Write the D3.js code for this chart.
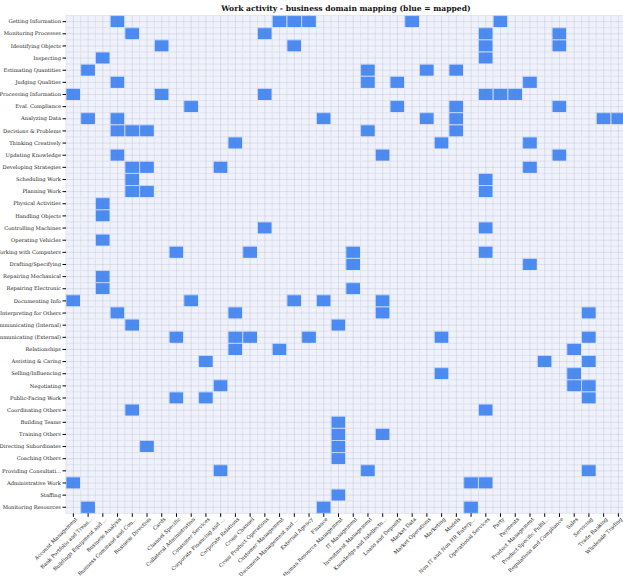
<!DOCTYPE html>
<html>
<head>
<meta charset="utf-8">
<script src="https://cdn.jsdelivr.net/npm/d3@7/dist/d3.min.js"></script>
<style>
body { margin: 0; background: #fff; }
text { font-family: "DejaVu Serif", serif; }
</style>
</head>
<body>
<script>
var activities = ["Getting Information", "Monitoring Processes", "Identifying Objects", "Inspecting",
  "Estimating Quantities", "Judging Qualities", "Processing Information", "Eval. Compliance",
  "Analyzing Data", "Decisions & Problems", "Thinking Creatively", "Updating Knowledge",
  "Developing Strategies", "Scheduling Work", "Planning Work", "Physical Activities",
  "Handling Objects", "Controlling Machines", "Operating Vehicles", "Working with Computers",
  "Drafting/Specifying", "Repairing Mechanical", "Repairing Electronic", "Documenting Info",
  "Interpreting for Others", "Communicating (Internal)", "Communicating (External)", "Relationships",
  "Assisting & Caring", "Selling/Influencing", "Negotiating", "Public-Facing Work",
  "Coordinating Others", "Building Teams", "Training Others", "Directing Subordinates",
  "Coaching Others", "Providing Consultati...", "Administrative Work", "Staffing",
  "Monitoring Resources"];

var domains = ["Account Management", "Bank Portfolio and Treas...", "Buildings Equipment and ...",
  "Business Analysis", "Business Command and Con...", "Business Direction", "Cards",
  "Channel Specific", "Collateral Administration", "Consumer Services", "Corporate Financing and ...",
  "Corporate Relations", "Cross Channel", "Cross Product Operations", "Customer Management",
  "Document Management and ...", "External Agency", "Finance", "Human Resource Management",
  "IT Management", "Investment Management", "Knowledge and Intellectu...", "Loans and Deposits",
  "Market Data", "Market Operations", "Marketing", "Models", "Non IT and Non HR Enterp...",
  "Operational Services", "Party", "Payments", "Product Management", "Product Specific Fulfil...",
  "Regulations and Compliance", "Sales", "Servicing", "Trade Banking", "Wholesale Trading"];

// domain indices mapped for each activity (same order as activities)
var mapped = [
  [3, 14, 15, 16, 23, 29],
  [4, 13, 28, 33],
  [6, 15, 28, 33],
  [2, 28],
  [1, 20, 24, 26],
  [3, 20, 22, 31],
  [0, 6, 13, 28, 29, 30],
  [8, 22, 26, 33],
  [1, 3, 17, 24, 26, 36, 37],
  [3, 4, 5, 20, 26],
  [11, 25, 31],
  [3, 21, 33],
  [4, 5, 10, 31],
  [4, 28],
  [4, 5, 28],
  [2],
  [2],
  [13, 28],
  [2],
  [7, 12, 19, 28],
  [19, 31],
  [2],
  [2, 19],
  [0, 8, 15, 17, 21],
  [3, 11, 21, 35],
  [4, 18],
  [7, 11, 12, 16, 25, 35],
  [11, 14, 34],
  [9, 32, 35],
  [25, 34],
  [10, 34, 35],
  [7, 9, 35],
  [4, 28],
  [18],
  [18, 21],
  [5, 18],
  [18],
  [10, 20, 35],
  [0, 27, 28],
  [18],
  [1, 17, 27]
];

var margin = {top: 15.6, left: 66};
var width = 38 * 14.73;
var height = 41 * 12.14;

var svg = d3.select("body").append("svg")
    .attr("width", 623)
    .attr("height", 576);

var g = svg.append("g")
    .attr("transform", "translate(" + margin.left + "," + margin.top + ")");

var x = d3.scaleBand().domain(domains).range([0, width]);
var y = d3.scaleBand().domain(activities).range([0, height]);

var cells = [];
activities.forEach(function(a, i) {
  domains.forEach(function(d, j) {
    cells.push({a: a, d: d, on: mapped[i].indexOf(j) >= 0});
  });
});

// background cells
g.selectAll(".cell")
  .data(cells)
  .enter().append("rect")
  .attr("class", "cell")
  .attr("x", function(d) { return x(d.d); })
  .attr("y", function(d) { return y(d.a); })
  .attr("width", x.bandwidth())
  .attr("height", y.bandwidth())
  .attr("fill", function(d) { return d.on ? "#4b8bf4" : "#eff2fc"; })
  .attr("stroke", function(d) { return d.on ? "#c3d2f4" : "#e3e4ec"; })
  .attr("stroke-width", 1);

// grid lines through tick positions
g.selectAll(".vline")
  .data(domains)
  .enter().append("line")
  .attr("x1", function(d) { return x(d) + x.bandwidth() / 2; })
  .attr("x2", function(d) { return x(d) + x.bandwidth() / 2; })
  .attr("y1", 0)
  .attr("y2", height)
  .attr("stroke", "rgba(120,125,150,0.22)")
  .attr("stroke-width", 0.8);

g.selectAll(".hline")
  .data(activities)
  .enter().append("line")
  .attr("y1", function(d) { return y(d) + y.bandwidth() / 2; })
  .attr("y2", function(d) { return y(d) + y.bandwidth() / 2; })
  .attr("x1", 0)
  .attr("x2", width)
  .attr("stroke", "rgba(120,125,150,0.22)")
  .attr("stroke-width", 0.8);

var yAxis = g.append("g")
  .call(d3.axisLeft(y).tickSize(3.5).tickPadding(1.5));
yAxis.select(".domain").remove();
yAxis.selectAll("text").attr("font-size", 5.2).attr("font-family", "DejaVu Serif").attr("fill", "#222");

var xAxis = g.append("g")
  .attr("transform", "translate(0," + height + ")")
  .call(d3.axisBottom(x).tickSize(3.5).tickPadding(2));
xAxis.select(".domain").remove();
xAxis.selectAll("text")
  .attr("font-size", 5.2)
  .attr("font-family", "DejaVu Serif")
  .attr("fill", "#222")
  .attr("text-anchor", "end")
  .attr("dy", "0.6em")
  .attr("transform", "translate(2,4) rotate(-45)")
  .attr("y", 0)
  .attr("x", 0);

svg.append("text")
  .attr("x", margin.left + width / 2)
  .attr("y", 10.5)
  .attr("text-anchor", "middle")
  .attr("font-size", 7.6)
  .attr("font-weight", "bold")
  .attr("fill", "#111")
  .text("Work activity - business domain mapping (blue = mapped)");
</script>
</body>
</html>
